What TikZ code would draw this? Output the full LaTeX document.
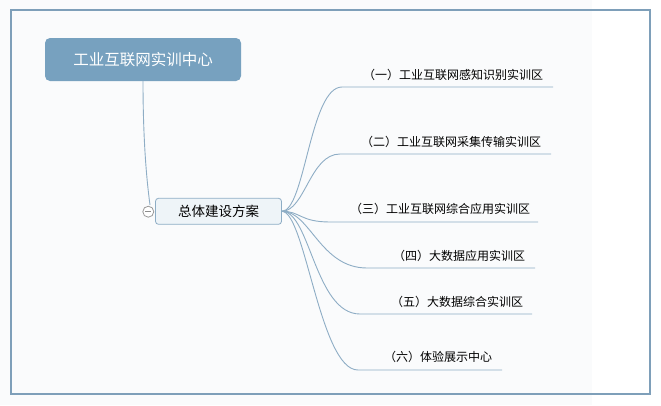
\documentclass[tikz,border=0pt]{standalone}
\usepackage{fontspec}
\newfontfamily\cjk{Noto Sans CJK SC}
\definecolor{framec}{HTML}{7E9FB9}
\definecolor{rootc}{HTML}{77A1BF}
\definecolor{linec}{HTML}{8EADC5}
\definecolor{subfill}{HTML}{EEF4F8}
\definecolor{bgc}{HTML}{FAFBFC}
\tikzset{
  rootbox/.style={draw=none, fill=rootc, rounded corners=5pt, minimum width=196pt, minimum height=43pt, text=white, font=\cjk\fontsize{15.5}{18}\selectfont, inner sep=0pt},
  subbox/.style={draw=linec, fill=subfill, rounded corners=3pt, minimum width=126pt, minimum height=26pt, font=\cjk\fontsize{13.5}{16}\selectfont, inner sep=0pt, line width=0.8pt},
  leaftext/.style={font=\cjk\fontsize{12}{14}\selectfont, inner sep=0pt, anchor=center, text=black},
  branch/.style={draw=linec, line width=0.9pt},
}
\begin{document}
\begin{tikzpicture}[x=1pt,y=-1pt]
\useasboundingbox (0,0) rectangle (661,405);
\fill[white] (0,0) rectangle (661,405);
\fill[bgc] (0,0) rectangle (592,405);
\draw[framec, line width=2pt] (11,10) rectangle (650,394);

\node[rootbox] (root) at (143,59.5) {工业互联网实训中心};
\node[subbox] (sub) at (218.5,211.3) {总体建设方案};
\draw[branch] (root.south) .. controls (143,150) and (148,190) .. (150,205);
\node[circle, draw=gray!80, fill=white, minimum size=11pt, inner sep=0pt, line width=0.8pt] (col) at (148.3,211.7) {};
\draw[gray!90, line width=0.8pt] ([xshift=-3pt]col.center) -- ([xshift=3pt]col.center);

% leaves
\node[leaftext] (t1) at (453,75) {（一）工业互联网感知识别实训区};
\node[leaftext] (t2) at (451,142) {（二）工业互联网采集传输实训区};
\node[leaftext] (t3) at (440,209) {（三）工业互联网综合应用实训区};
\node[leaftext] (t4) at (459,256) {（四）大数据应用实训区};
\node[leaftext] (t5) at (457,302) {（五）大数据综合实训区};
\node[leaftext] (t6) at (438,357) {（六）体验展示中心};

\coordinate (e1) at (553,87);
\coordinate (e2) at (551,154);
\coordinate (e3) at (538,222);
\coordinate (e4) at (535,268);
\coordinate (e5) at (532,314);
\coordinate (e6) at (502,370);

\coordinate (s1) at (342,87);
\coordinate (s2) at (340,154);
\coordinate (s3) at (330,222);
\coordinate (s4) at (367,268);
\coordinate (s5) at (360,314);
\coordinate (s6) at (358,370);

\draw[branch] (sub.east) .. controls (305,211) and (310,87) .. (s1) -- (e1);
\draw[branch] (sub.east) .. controls (305,211) and (310,154) .. (s2) -- (e2);
\draw[branch] (sub.east) .. controls (300,211) and (300,222) .. (s3) -- (e3);
\draw[branch] (sub.east) .. controls (310,211) and (320,268) .. (s4) -- (e4);
\draw[branch] (sub.east) .. controls (310,211) and (315,314) .. (s5) -- (e5);
\draw[branch] (sub.east) .. controls (305,211) and (320,370) .. (s6) -- (e6);
\end{tikzpicture}
\end{document}
